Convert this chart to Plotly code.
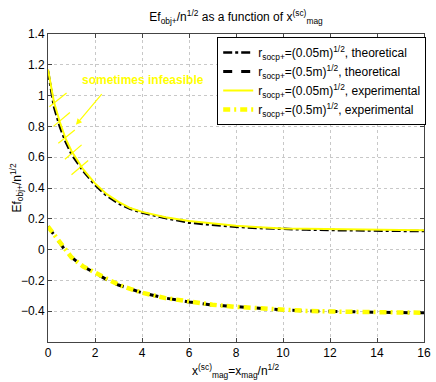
import plotly.graph_objects as go

# x values (x_mag^(sc))
x = [0, 0.25, 0.5, 0.75, 1, 1.5, 2, 2.5, 3, 3.5, 4, 5, 6, 7, 8, 9, 10, 11, 12, 13, 14, 15, 16]

theo_005 = [1.16, 0.93, 0.80, 0.70, 0.62, 0.51, 0.42, 0.35, 0.30, 0.265, 0.24, 0.205, 0.175, 0.16,
            0.148, 0.14, 0.133, 0.13, 0.127, 0.125, 0.123, 0.122, 0.12]
theo_05 = [0.15, 0.10, 0.045, -0.01, -0.05, -0.11, -0.155, -0.195, -0.23, -0.255, -0.28, -0.315,
           -0.34, -0.36, -0.372, -0.383, -0.392, -0.398, -0.402, -0.405, -0.407, -0.409, -0.41]
exp_005 = [1.17, 0.96, 0.83, 0.72, 0.64, 0.52, 0.43, 0.36, 0.31, 0.27, 0.245, 0.21, 0.185, 0.17,
           0.155, 0.145, 0.137, 0.135, 0.132, 0.13, 0.128, 0.127, 0.125]
exp_05 = [0.15, 0.10, 0.045, -0.01, -0.05, -0.11, -0.152, -0.192, -0.228, -0.255, -0.28, -0.315,
          -0.34, -0.358, -0.372, -0.383, -0.392, -0.398, -0.402, -0.405, -0.407, -0.409, -0.41]

# "sometimes infeasible" hatch marks across the upper curve
hatches = [((0.06, 0.927), (0.79, 1.017)),
           ((0.23, 0.80), (0.93, 0.89)),
           ((0.44, 0.69), (1.14, 0.777)),
           ((0.72, 0.587), (1.43, 0.68)),
           ((1.0, 0.486), (1.71, 0.579))]

YELLOW = "#ffff00"
font = "Liberation Sans, Arial, sans-serif"

fig = go.Figure()
fig.add_trace(go.Scatter(x=x, y=theo_005, mode="lines", line=dict(color="black", width=2.5, dash="dashdot"),
                         name="r<sub>socp+</sub>=(0.05m)<sup>1/2</sup>, theoretical"))
fig.add_trace(go.Scatter(x=x, y=theo_05, mode="lines", line=dict(color="black", width=3, dash="dash"),
                         name="r<sub>socp+</sub>=(0.5m)<sup>1/2</sup>, theoretical"))
fig.add_trace(go.Scatter(x=x, y=exp_005, mode="lines", line=dict(color=YELLOW, width=2),
                         name="r<sub>socp+</sub>=(0.05m)<sup>1/2</sup>, experimental"))
fig.add_trace(go.Scatter(x=x, y=exp_05, mode="lines", line=dict(color=YELLOW, width=4.5, dash="7px,4px,2px,4px"),
                         name="r<sub>socp+</sub>=(0.5m)<sup>1/2</sup>, experimental"))

for (x0, y0), (x1, y1) in hatches:
    fig.add_shape(type="line", x0=x0, y0=y0, x1=x1, y1=y1, xref="x", yref="y",
                  line=dict(color=YELLOW, width=1.2))

fig.add_annotation(x=1.19, y=0.81, ax=2.34, ay=1.02, xref="x", yref="y", axref="x", ayref="y",
                   text="", showarrow=True, arrowhead=2, arrowsize=1, arrowwidth=1.2, arrowcolor=YELLOW)
fig.add_annotation(x=1.36, y=1.10, xref="x", yref="y", text="<b>sometimes infeasible</b>",
                   showarrow=False, xanchor="left", font=dict(color=YELLOW, size=12, family=font))

# axis titles as annotations for exact placement
fig.add_annotation(x=0.5, y=-0.06, xref="paper", yref="paper", yanchor="top", showarrow=False,
                   text="x<sup>(sc)</sup><sub>mag</sub>=x<sub>mag</sub>/n<sup>1/2</sup>", font=dict(size=12))
fig.add_annotation(x=-0.113, y=0.5, xref="paper", yref="paper", textangle=-90, showarrow=False,
                   text="Ef<sub>obj+</sub>/n<sup>1/2</sup>", font=dict(size=12))

axis_common = dict(showline=True, linecolor="#444", linewidth=1, mirror="ticks", ticks="inside",
                   ticklen=4, tickcolor="#444", showgrid=True, gridcolor="#c8c8c8", griddash="dot",
                   gridwidth=1, zeroline=False, automargin=False,
                   tickfont=dict(size=12, color="black", family=font))

fig.update_layout(
    width=436, height=382,
    margin=dict(l=48, r=10, t=34, b=40),
    paper_bgcolor="white", plot_bgcolor="white",
    font=dict(family=font, color="black", size=12),
    title=dict(text="Ef<sub>obj+</sub>/n<sup>1/2</sup> as a function of x<sup>(sc)</sup><sub>mag</sub>",
               xref="paper", x=0.5, xanchor="center", yref="container", y=0.955, yanchor="middle",
               automargin=False, font=dict(size=12)),
    xaxis=dict(range=[0, 16], tickvals=list(range(0, 17, 2)), **axis_common),
    yaxis=dict(range=[-0.6, 1.4], tickvals=[-0.4, -0.2, 0, 0.2, 0.4, 0.6, 0.8, 1, 1.2, 1.4],
               **axis_common),
    legend=dict(x=0.45, y=0.99, xanchor="left", yanchor="top", bgcolor="white",
                bordercolor="black", borderwidth=1, font=dict(size=12), tracegroupgap=0,
                itemwidth=30),
    showlegend=True,
)

# remove the default page margin so the figure fills the window exactly
fig.write_html("out.html", config={"displayModeBar": False},
               post_script="document.body.style.margin='0';document.body.style.overflow='hidden';")
